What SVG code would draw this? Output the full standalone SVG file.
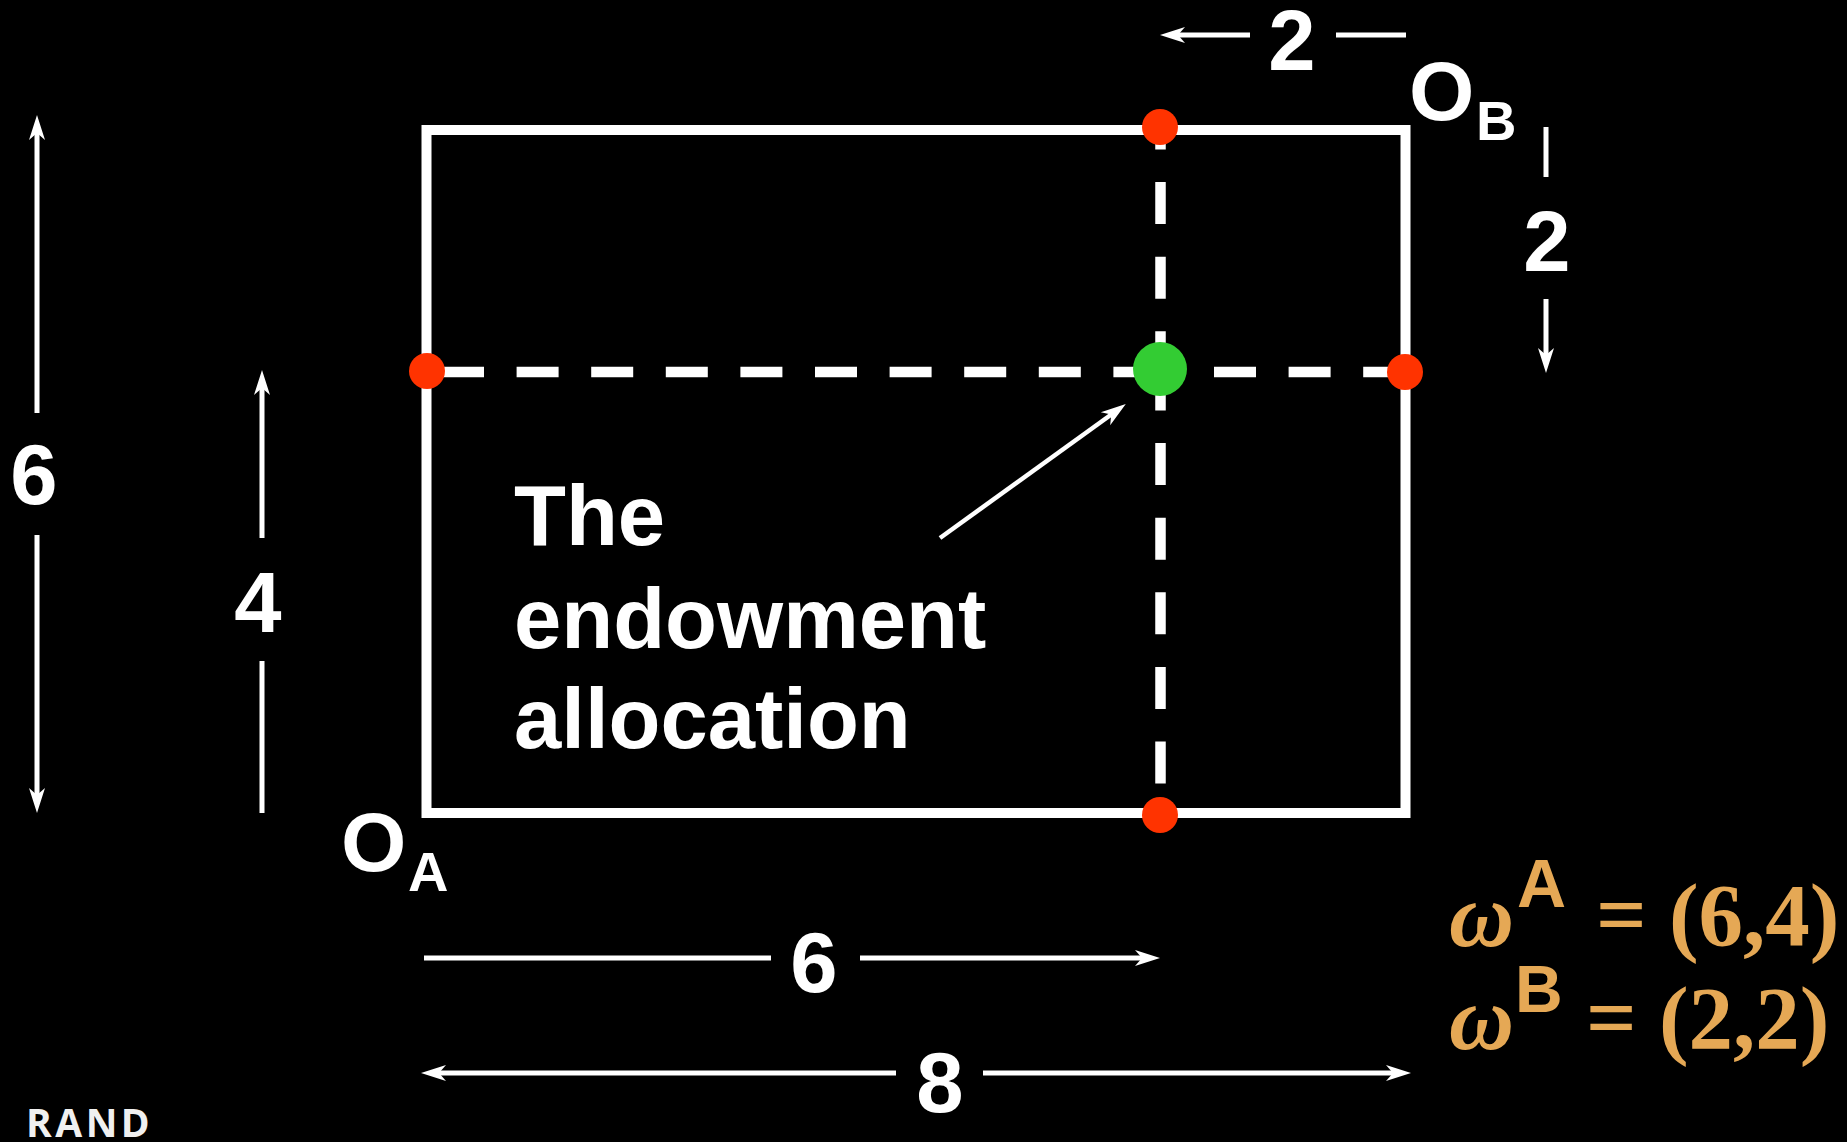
<svg xmlns="http://www.w3.org/2000/svg" width="1847" height="1142" viewBox="0 0 1847 1142">
<style>
.lbl{font-family:"Liberation Sans",Arial,sans-serif;font-weight:bold;fill:#fff}
.dig{font-size:85px;text-anchor:middle}
.txt{font-size:85px}
.arr{stroke:#fff;stroke-width:5;fill:none}
.dash{stroke:#fff;stroke-width:10.5;fill:none;stroke-dasharray:42 32.6}
.eq{fill:#E5A855}
.serif{font-family:"Liberation Serif","Times New Roman",serif;font-weight:bold}
</style>
<defs>
<marker id="ah" markerUnits="userSpaceOnUse" markerWidth="30" markerHeight="20" viewBox="0 0 30 20" refX="10" refY="10" orient="auto" overflow="visible">
<path d="M2,2 L27,10 L2,18 L9,10 Z" fill="#fff"/>
</marker>
</defs>
<rect width="1847" height="1142" fill="#000"/>

<g id="box">
<rect x="426.5" y="130" width="979" height="683" fill="none" stroke="#fff" stroke-width="10"/>
</g>

<g id="connectors">
<line class="dash" x1="1160.5" y1="127" x2="1160.5" y2="369" style="stroke-dashoffset:19.5"/>
<line class="dash" x1="1160.5" y1="368.5" x2="1160.5" y2="815"/>
<line class="dash" x1="442" y1="372" x2="1160" y2="372"/>
<line class="dash" x1="1214" y1="372" x2="1405" y2="372"/>
<line class="arr" x1="940" y1="538" x2="1112" y2="414" marker-end="url(#ah)" style="stroke-width:4.5"/>
<line class="arr" x1="1250" y1="35" x2="1177" y2="35" marker-end="url(#ah)"/>
<line class="arr" x1="1336" y1="35" x2="1406" y2="35"/>
<line class="arr" x1="1546" y1="127" x2="1546" y2="177"/>
<line class="arr" x1="1546" y1="299" x2="1546" y2="356" marker-end="url(#ah)"/>
<line class="arr" x1="37" y1="413" x2="37" y2="132" marker-end="url(#ah)"/>
<line class="arr" x1="37" y1="535" x2="37" y2="796" marker-end="url(#ah)"/>
<line class="arr" x1="262" y1="538" x2="262" y2="387" marker-end="url(#ah)"/>
<line class="arr" x1="262" y1="661" x2="262" y2="813"/>
<line class="arr" x1="424" y1="958" x2="771" y2="958"/>
<line class="arr" x1="860" y1="958" x2="1143" y2="958" marker-end="url(#ah)"/>
<line class="arr" x1="896" y1="1073" x2="438" y2="1073" marker-end="url(#ah)"/>
<line class="arr" x1="983" y1="1073" x2="1394" y2="1073" marker-end="url(#ah)"/>
</g>

<g id="points">
<circle cx="1160" cy="127" r="18" fill="#FF3300"/>
<circle cx="427" cy="371" r="18" fill="#FF3300"/>
<circle cx="1405" cy="372" r="18" fill="#FF3300"/>
<circle cx="1160" cy="815" r="18" fill="#FF3300"/>
<circle cx="1160" cy="369" r="27" fill="#33CC33"/>
</g>

<g id="labels">
<text class="lbl dig" x="1292" y="70">2</text>
<text class="lbl dig" x="1547" y="271">2</text>
<text class="lbl dig" x="34" y="504">6</text>
<text class="lbl dig" x="258" y="632">4</text>
<text class="lbl dig" x="814" y="992">6</text>
<text class="lbl dig" x="940" y="1112">8</text>
</g>

<g id="origin-a">
<text class="lbl" x="341" y="871" font-size="84">O</text>
<text class="lbl" x="408" y="891" font-size="56">A</text>
</g>
<g id="origin-b">
<text class="lbl" x="1409" y="120" font-size="84">O</text>
<text class="lbl" x="1476" y="140" font-size="56">B</text>
</g>

<g id="endowment-label">
<text class="lbl txt" x="514" y="545">The</text>
<text class="lbl txt" x="514" y="648">endowment</text>
<text class="lbl txt" x="514" y="748">allocation</text>
</g>

<g id="omega-a">
<text class="serif eq" x="1449" y="946" font-size="90" font-style="italic">ω</text>
<text class="lbl eq" x="1517" y="907" font-size="68">A</text>
<text class="serif eq" x="1596" y="945" font-size="89">= (6,4)</text>
</g>
<g id="omega-b">
<text class="serif eq" x="1449" y="1049" font-size="90" font-style="italic">ω</text>
<text class="lbl eq" x="1515" y="1012" font-size="66">B</text>
<text class="serif eq" x="1586" y="1048" font-size="89">= (2,2)</text>
</g>

<g id="rand">
<text x="26" y="1137" font-family="'Open Sans','Liberation Sans',sans-serif" font-weight="bold" font-size="39" letter-spacing="3.5" fill="#f0f0f0">RAND</text>
</g>
</svg>
